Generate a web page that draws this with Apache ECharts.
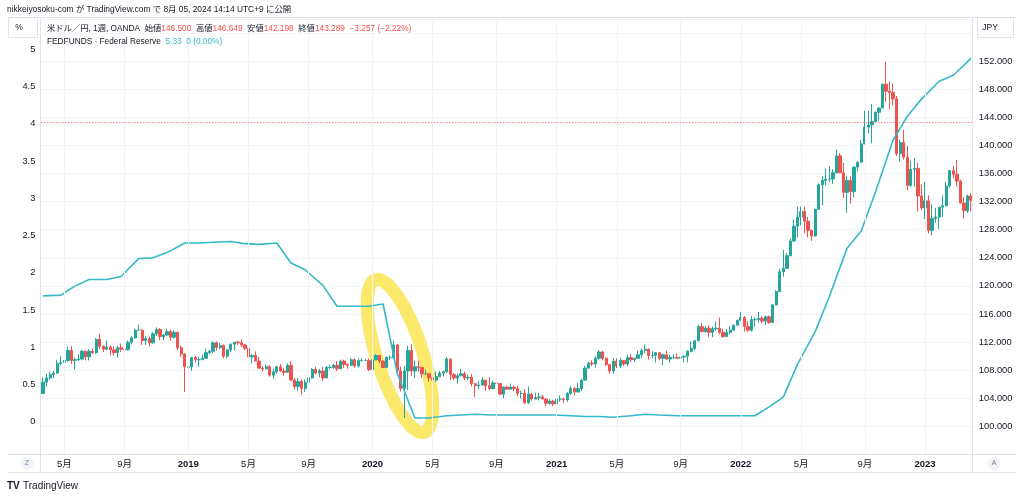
<!DOCTYPE html>
<html><head><meta charset="utf-8">
<script src="https://cdn.jsdelivr.net/npm/echarts@6/dist/echarts.min.js"></script>
<style>html,body{margin:0;padding:0;background:#fff}#c{width:1024px;height:496px}</style>
</head><body><div id="c"></div><script>
// Weekly USD/JPY candles [open, high, low, close], weeks start Monday 2018-03-26
const startMonday = [2018, 2, 26];
const usdjpy2018 = [
[104.7,107.0,104.6,106.3],[106.3,107.5,105.7,106.9],[106.9,107.8,106.6,107.4],[107.4,107.9,106.9,107.6],
[107.6,109.5,107.5,109.0],[109.0,110.0,108.7,109.1],[109.1,109.8,108.6,109.4],[109.4,111.4,109.2,110.8],
[110.8,111.4,108.9,109.4],[109.4,109.8,108.1,109.5],[109.5,110.3,109.3,109.6],[109.6,110.9,109.4,110.7],
[110.7,110.8,109.4,109.9],[109.9,111.0,109.4,110.7],[110.7,111.1,110.3,110.5],[110.5,112.6,110.3,112.4],
[112.4,113.2,111.0,111.4],[111.4,111.5,110.6,111.0],[111.0,112.2,110.9,111.3],[111.3,111.5,110.1,110.9],
[110.9,111.4,110.1,110.5],[110.5,111.5,109.8,111.2],[111.2,111.8,110.6,111.0],[111.0,111.8,110.4,110.9],
[110.9,112.2,110.8,112.0],[112.0,112.9,111.7,112.6],[112.6,113.9,112.5,113.7],[113.7,114.5,113.6,113.7],
[113.7,113.9,111.6,112.2],[112.2,112.9,111.6,112.5],[112.5,112.8,111.4,111.9],[111.9,113.4,111.8,113.2],
[113.2,114.1,112.9,113.8],[113.8,114.0,112.3,112.8],[112.8,113.2,112.3,113.0],[113.0,113.9,112.9,113.5],
[113.5,113.8,112.2,112.7],[112.7,113.7,112.5,113.4],[113.4,113.5,110.9,111.2],[111.2,111.5,109.9,110.3],
[110.3,110.4,104.9,108.5]];
const usdjpy2019 = [
[108.4,108.9,107.8,108.5],[108.5,109.9,107.9,109.8],[109.8,110.0,109.1,109.5],[109.5,109.9,108.5,109.5],
[109.5,110.2,109.5,109.7],[109.7,111.1,109.7,110.5],[110.5,110.9,110.3,110.7],[110.7,112.1,110.4,111.9],
[111.9,112.1,110.8,111.2],[111.2,111.9,111.0,111.5],[111.5,111.7,109.7,110.0],[110.0,111.0,109.7,110.9],
[110.9,111.8,110.6,111.7],[111.7,112.0,110.8,112.0],[112.0,112.2,111.6,111.9],[111.9,112.4,111.3,111.6],
[111.6,111.7,110.9,111.1],[111.1,111.2,109.5,109.9],[109.9,110.3,109.0,110.1],[110.1,110.7,109.3,109.3],
[109.3,109.9,108.3,108.3],[108.3,108.6,107.8,108.2],[108.2,108.8,108.1,108.5],[108.5,108.7,107.1,107.3],
[107.3,108.2,106.8,107.8],[107.8,108.6,107.5,108.5],[108.5,108.9,107.8,107.9],[107.9,108.3,107.2,107.7],
[107.7,109.0,107.6,108.7],[108.7,109.3,106.5,106.6],[106.6,106.9,105.3,105.7],[105.7,106.9,105.1,106.4],
[106.4,106.7,104.5,105.4],[105.4,106.7,104.9,106.3],[106.3,107.2,105.7,106.9],[106.9,108.3,106.8,108.1],
[108.1,108.5,107.4,107.6],[107.6,108.2,107.0,107.9],[107.9,108.5,106.5,106.9],[106.9,108.6,106.9,108.4],
[108.4,108.8,108.2,108.4],[108.4,108.9,108.2,108.7],[108.7,109.3,107.9,108.2],[108.2,109.5,108.2,109.3],
[109.3,109.5,108.3,108.8],[108.8,109.0,108.2,108.7],[108.7,109.7,108.6,109.5],[109.5,109.7,108.4,108.6],
[108.6,109.7,108.4,109.4],[109.4,109.7,109.2,109.4],[109.4,109.6,109.3,109.4],[109.4,109.7,107.9,108.1]];
const usdjpy2020 = [
[108.1,109.6,107.8,109.5],[109.5,110.3,109.4,110.1],[110.1,110.2,109.0,109.3],[109.3,109.4,108.3,108.4],
[108.4,110.0,108.3,109.8],[109.8,110.1,109.5,109.8],[109.8,112.2,109.6,111.6],[111.6,111.7,107.5,107.9],
[107.9,108.5,105.0,105.4],[105.4,108.6,101.2,107.9],[107.9,111.5,105.2,110.8],[110.8,111.7,107.2,107.9],
[107.9,109.4,106.9,108.5],[108.5,109.4,107.8,108.4],[108.4,108.4,106.9,107.5],[107.5,108.1,107.3,107.5],
[107.5,107.6,106.4,106.9],[106.9,106.9,105.9,106.6],[106.6,107.8,106.4,107.1],[107.1,107.9,107.0,107.6],
[107.6,107.9,107.1,107.8],[107.8,109.9,107.6,109.6],[109.6,109.6,106.6,107.4],[107.4,107.6,106.6,106.9],
[106.9,107.5,106.1,107.2],[107.2,108.2,107.2,107.5],[107.5,107.8,106.6,106.9],[106.9,107.4,106.6,107.0],
[107.0,107.5,105.7,106.1],[106.1,106.1,104.2,105.8],[105.8,106.5,105.3,105.9],[105.9,107.0,105.8,106.6],
[106.6,106.6,105.1,105.8],[105.8,107.0,105.2,105.4],[105.4,106.5,105.3,106.2],[106.2,106.4,105.8,106.1],
[106.1,106.1,104.6,104.6],[104.6,105.7,104.0,105.6],[105.6,105.8,105.2,105.3],[105.3,106.1,105.3,105.6],
[105.6,105.8,105.0,105.4],[105.4,105.8,104.3,104.7],[104.7,105.1,104.0,104.7],[104.7,105.3,103.2,103.4],
[103.4,105.7,103.2,104.6],[104.6,104.8,103.7,103.9],[103.9,104.8,103.9,104.1],[104.1,104.8,103.7,104.2],
[104.2,104.5,103.9,103.9],[103.9,104.0,102.9,103.3],[103.3,103.9,103.1,103.6],[103.6,103.8,102.9,103.2]];
const usdjpy2021 = [
[103.2,104.1,102.6,103.9],[103.9,104.4,103.5,103.9],[103.9,104.1,103.3,103.8],[103.8,104.9,103.5,104.7],
[104.7,105.8,104.5,105.4],[105.4,105.6,104.4,104.9],[104.9,106.2,104.9,105.4],[105.4,106.7,105.0,106.6],
[106.6,108.6,106.5,108.3],[108.3,109.2,108.3,109.0],[109.0,109.4,108.6,108.9],[108.9,110.0,108.4,109.7],
[109.7,110.9,109.5,110.6],[110.6,110.8,109.4,109.7],[109.7,109.8,108.6,108.8],[108.8,108.9,107.5,107.9],
[107.9,109.7,107.5,109.3],[109.3,109.7,108.3,108.6],[108.6,109.8,108.3,109.4],[109.4,109.4,108.6,108.9],
[108.9,110.2,108.6,109.8],[109.8,110.3,109.2,109.5],[109.5,109.8,109.2,109.7],[109.7,110.8,109.6,110.2],
[110.2,111.1,109.7,110.8],[110.8,111.7,110.4,111.0],[111.0,111.1,109.5,110.1],[110.1,110.7,109.7,110.1],
[110.1,110.6,109.1,110.5],[110.5,110.6,109.4,109.7],[109.7,110.4,108.7,110.2],[110.2,110.8,109.5,109.6],
[109.6,110.2,109.1,109.8],[109.8,110.3,109.6,109.8],[109.8,110.4,109.6,109.7],[109.7,110.4,109.6,109.9],
[109.9,110.1,109.1,110.0],[110.0,110.8,109.1,110.7],[110.7,112.1,110.6,111.1],[111.1,112.3,110.8,112.2],
[112.2,114.5,112.1,114.2],[114.2,114.7,113.4,113.5],[113.5,114.3,113.3,114.0],[114.0,114.4,112.7,113.4],
[113.4,114.2,112.7,113.9],[113.9,114.9,113.6,114.0],[114.0,115.5,113.1,113.4],[113.4,113.9,112.6,112.8],
[112.8,113.9,112.7,113.4],[113.4,114.3,113.1,113.7],[113.7,114.5,113.6,114.4],[114.4,115.2,114.4,115.1]];
const usdjpy2022 = [
[115.1,116.3,115.0,115.5],[115.5,115.7,113.5,114.2],[114.2,115.0,113.5,113.7],[113.7,115.7,113.5,115.2],
[115.2,115.5,114.2,115.2],[115.2,116.3,114.8,115.4],[115.4,115.7,114.7,115.0],[115.0,115.8,114.4,115.6],
[115.6,115.8,114.6,114.8],[114.8,117.4,114.8,117.3],[117.3,119.4,117.3,119.2],[119.2,122.4,119.1,122.0],
[122.0,125.1,121.3,122.5],[122.5,124.7,122.4,124.3],[124.3,126.7,124.2,126.4],[126.4,129.4,126.2,128.5],
[128.5,131.3,126.9,129.8],[129.8,131.3,128.6,130.6],[130.6,131.3,127.5,129.2],[129.2,129.8,126.9,127.9],
[127.9,128.0,126.4,127.1],[127.1,131.0,127.0,130.9],[130.9,134.6,130.9,134.4],[134.4,135.6,131.5,135.0],
[135.0,136.7,134.3,135.2],[135.2,137.0,134.8,135.2],[135.2,136.6,134.5,136.1],[136.1,139.4,136.0,138.5],
[138.5,138.9,136.0,136.1],[136.1,137.5,132.5,133.3],[133.3,135.6,130.4,135.0],[135.0,135.6,131.7,133.4],
[133.4,137.0,132.6,136.9],[136.9,137.7,136.3,137.6],[137.6,140.8,137.6,140.2],[140.2,144.9,140.2,142.6],
[142.6,144.9,141.7,142.9],[142.9,145.9,140.3,143.4],[143.4,144.8,143.3,144.7],[144.7,145.4,143.5,145.3],
[145.3,148.8,145.3,148.7],[148.7,151.9,146.2,147.7],[147.7,149.1,145.1,147.5],[147.5,148.8,145.7,146.6],
[146.6,147.0,138.5,138.8],[138.8,140.8,137.7,140.4],[140.4,142.2,138.0,138.3],[138.3,139.9,133.6,134.3],
[134.3,137.8,134.1,136.6],[136.6,138.2,134.1,136.7],[136.7,137.5,130.6,132.8],[132.8,134.4,130.8,131.1]];
const usdjpy2023 = [
[131.1,134.8,129.5,132.1],[132.1,132.9,127.5,127.9],[127.9,131.6,127.2,129.6],[129.6,131.1,129.0,129.8],
[129.8,131.2,128.1,131.2],[131.2,132.9,129.8,131.4],[131.4,134.8,131.3,134.2],[134.2,136.5,134.0,136.4],
[136.4,137.1,135.3,135.9],[135.9,137.9,134.1,134.9],[134.9,135.1,131.7,131.8],[131.8,132.6,129.6,130.7],
[130.7,133.0,130.4,132.8],[132.8,133.2,130.6,132.2]];

// FEDFUNDS monthly (%), placed at the week containing the 1st of each month
const fed2018 = [1.69,1.70,1.82,1.91,1.91,1.95,2.19,2.20,2.27]; // Apr..Dec
const fed2019 = [2.40,2.40,2.41,2.42,2.39,2.38,2.40,2.13,2.04,1.83,1.55,1.55];
const fed2020 = [1.55,1.58,0.65,0.05,0.05,0.08,0.09,0.10,0.09,0.09,0.09,0.09];
const fed2021 = [0.09,0.08,0.07,0.07,0.06,0.08,0.10,0.09,0.08,0.08,0.08,0.08];
const fed2022 = [0.08,0.08,0.20,0.33,0.77,1.21,1.68,2.33,2.56,3.08,3.78,4.10];
const fed2023 = [4.33,4.57,4.65,4.83]; // Jan..Apr
const fedRightEdge = 4.88; // value where the line leaves the pane

const lastClose = 143.289;
const rightTicks = {min: 96, max: 158, step: 4, shownMin: 100, shownMax: 152};
const leftTicks = {min: -0.5, max: 5.5, step: 0.5};

// ---- build
const ohlc = [].concat(usdjpy2018, usdjpy2019, usdjpy2020, usdjpy2021, usdjpy2022, usdjpy2023);
const DAY = 864e5;
const t0 = Date.UTC(startMonday[0], startMonday[1], startMonday[2]);
const weeks = ohlc.map((_, i) => new Date(t0 + i * 7 * DAY).toISOString().slice(0, 10));
const candleData = ohlc.map(r => [r[0], r[3], r[2], r[1]]);

const fedSeries = new Array(weeks.length).fill(null);
const fedYears = [[2018, 3, fed2018], [2019, 0, fed2019], [2020, 0, fed2020], [2021, 0, fed2021], [2022, 0, fed2022], [2023, 0, fed2023]];
fedYears.forEach(([y, m0, vals]) => vals.forEach((v, k) => {
  const idx = Math.floor((Date.UTC(y, m0 + k, 1) - t0) / (7 * DAY));
  if (idx >= 0 && idx < weeks.length) fedSeries[idx] = v;
}));
fedSeries[weeks.length - 1] = fedRightEdge;

function isLabelWeek(w) {
  const m = +w.slice(5, 7), d = +w.slice(8, 10);
  return d <= 7 && (m === 1 || m === 5 || m === 9);
}
const labelWeeks = weeks.filter(isLabelWeek);

const FONT = "'Liberation Sans', 'Noto Sans CJK JP', sans-serif";
const TXT = '#131722', RED = '#ef5350', GREEN = '#26a69a', CYAN = '#35b9c8', GRID = '#f0f3fa', BORDER = '#e0e3eb';
const LF = '8.3px ' + FONT;

const chart = echarts.init(document.getElementById('c'), null, {renderer: 'canvas'});
const gl = 41.3, gr = 1024 - 972.8;
chart.setOption({
  animation: false,
  backgroundColor: '#fff',
  textStyle: {fontFamily: FONT},
  grid: [
    {left: gl, right: gr, top: 18.8, bottom: 41.4},
    {left: gl, right: gr, top: 11.95, bottom: 37}
  ],
  xAxis: [
    {type: 'category', gridIndex: 0, data: weeks, boundaryGap: true,
     axisLine: {show: false}, axisTick: {show: false}, splitLine: {show: false},
     axisLabel: {interval: (i, v) => isLabelWeek(v), margin: 5, fontSize: 9.5, color: TXT, fontFamily: FONT,
       formatter: v => { const m = +v.slice(5, 7); return m === 1 ? '{b|' + v.slice(0, 4) + '}' : m + '月'; },
       rich: {b: {fontWeight: 'bold', fontSize: 9.5, color: TXT, fontFamily: FONT}}}},
    {type: 'category', gridIndex: 1, data: weeks, boundaryGap: true, show: false}
  ],
  yAxis: [
    {type: 'value', gridIndex: 0, position: 'right', min: rightTicks.min, max: rightTicks.max, interval: rightTicks.step,
     axisLine: {show: false}, axisTick: {show: false},
     splitLine: {lineStyle: {color: GRID, width: 1}},
     axisLabel: {margin: 6, fontSize: 9.3, color: TXT, fontFamily: FONT,
       formatter: v => (v < rightTicks.shownMin || v > rightTicks.shownMax) ? '' : v.toFixed(3)}},
    {type: 'value', gridIndex: 1, position: 'left', min: leftTicks.min, max: leftTicks.max, interval: leftTicks.step,
     axisLine: {show: false}, axisTick: {show: false}, splitLine: {show: false},
     axisLabel: {margin: 6, fontSize: 9.3, color: TXT, fontFamily: FONT,
       formatter: v => (v < 0 || v > 5) ? '' : String(v)}}
  ],
  series: [
    {type: 'line', xAxisIndex: 0, yAxisIndex: 0, data: [], z: 1, silent: true,
     markLine: {silent: true, symbol: 'none', label: {show: false}, animation: false,
       lineStyle: {color: GRID, width: 1, type: 'solid'},
       data: labelWeeks.map(w => ({xAxis: w}))}},
    {type: 'candlestick', xAxisIndex: 0, yAxisIndex: 0, data: candleData, barWidth: 2.8, z: 2,
     itemStyle: {color: GREEN, color0: RED, borderColor: GREEN, borderColor0: RED, borderWidth: 1},
     markLine: {silent: true, symbol: 'none', label: {show: false}, animation: false,
       lineStyle: {color: RED, width: 1, type: [1, 2]},
       data: [{yAxis: lastClose}]}},
    {type: 'line', xAxisIndex: 1, yAxisIndex: 1, data: fedSeries, connectNulls: true, showSymbol: false, z: 3,
     lineStyle: {color: CYAN, width: 1.6}}
  ],
  graphic: [
    // yellow hand-drawn highlight
    {type: 'ellipse', x: 400, y: 356, rotation: 0.31, z: 1, silent: true,
     shape: {cx: 0, cy: 0, rx: 23, ry: 80}, style: {fill: 'none', stroke: '#fbe96c', lineWidth: 13}},
    {type: 'text', x: 7, y: 10, z: 20, style: {text: 'nikkeiyosoku-com が TradingView.com で 8月 05, 2024 14:14 UTC+9 に公開', fill: TXT, font: '8.4px ' + FONT, verticalAlign: 'middle'}},
    {type: 'text', x: 47, y: 29, z: 20, style: {
      text: '{d|米ドル／円, 1週, OANDA}  {d|始値}{r|146.500}  {d|高値}{r|146.649}  {d|安値}{r|142.198}  {d|終値}{r|143.289}  {r|−3.257 (−2.22%)}',
      font: LF, verticalAlign: 'middle',
      rich: {d: {fill: TXT, font: LF}, r: {fill: RED, font: LF}}}},
    {type: 'text', x: 47, y: 42, z: 20, style: {
      text: '{d|FEDFUNDS · Federal Reserve}  {c|5.33}  {c|0 (0.00%)}',
      font: LF, verticalAlign: 'middle',
      rich: {d: {fill: TXT, font: LF}, c: {fill: CYAN, font: LF}}}},
    // pane frame
    {type: 'line', z: 20, shape: {x1: 8, y1: 17.5, x2: 1016, y2: 17.5}, style: {stroke: BORDER, lineWidth: 1}},
    {type: 'line', z: 20, shape: {x1: 8, y1: 454.5, x2: 1016, y2: 454.5}, style: {stroke: BORDER, lineWidth: 1}},
    {type: 'line', z: 20, shape: {x1: 8, y1: 472.5, x2: 1016, y2: 472.5}, style: {stroke: BORDER, lineWidth: 1}},
    {type: 'line', z: 20, shape: {x1: 40.5, y1: 17.5, x2: 40.5, y2: 472.5}, style: {stroke: BORDER, lineWidth: 1}},
    {type: 'line', z: 20, shape: {x1: 972.5, y1: 17.5, x2: 972.5, y2: 472.5}, style: {stroke: BORDER, lineWidth: 1}},
    {type: 'rect', z: 20, shape: {x: 8.5, y: 17.5, width: 29, height: 20}, style: {fill: '#fff', stroke: BORDER, lineWidth: 1}},
    {type: 'text', z: 21, x: 19, y: 28, style: {text: '%', fill: TXT, font: '8.5px ' + FONT, verticalAlign: 'middle', align: 'center'}},
    {type: 'rect', z: 20, shape: {x: 977.5, y: 17.5, width: 36, height: 20}, style: {fill: '#fff', stroke: BORDER, lineWidth: 1}},
    {type: 'text', z: 21, x: 990, y: 28, style: {text: 'JPY', fill: TXT, font: '8.5px ' + FONT, verticalAlign: 'middle', align: 'center'}},
    {type: 'circle', z: 20, shape: {cx: 27, cy: 463.5, r: 6.5}, style: {fill: '#f0f3fa'}},
    {type: 'text', z: 21, x: 27, y: 463.5, style: {text: 'Z', fill: '#787b86', font: '7px ' + FONT, align: 'center', verticalAlign: 'middle'}},
    {type: 'circle', z: 20, shape: {cx: 994, cy: 463.5, r: 6.5}, style: {fill: '#f0f3fa'}},
    {type: 'text', z: 21, x: 994, y: 463.5, style: {text: 'A', fill: '#787b86', font: '7px ' + FONT, align: 'center', verticalAlign: 'middle'}},
    {type: 'text', z: 20, x: 7, y: 486, style: {text: 'TV', fill: TXT, font: 'bold 10px ' + FONT, verticalAlign: 'middle'}},
    {type: 'text', z: 20, x: 23, y: 486, style: {text: 'TradingView', fill: TXT, font: '10px ' + FONT, verticalAlign: 'middle'}}
  ]
});
</script></body></html>
